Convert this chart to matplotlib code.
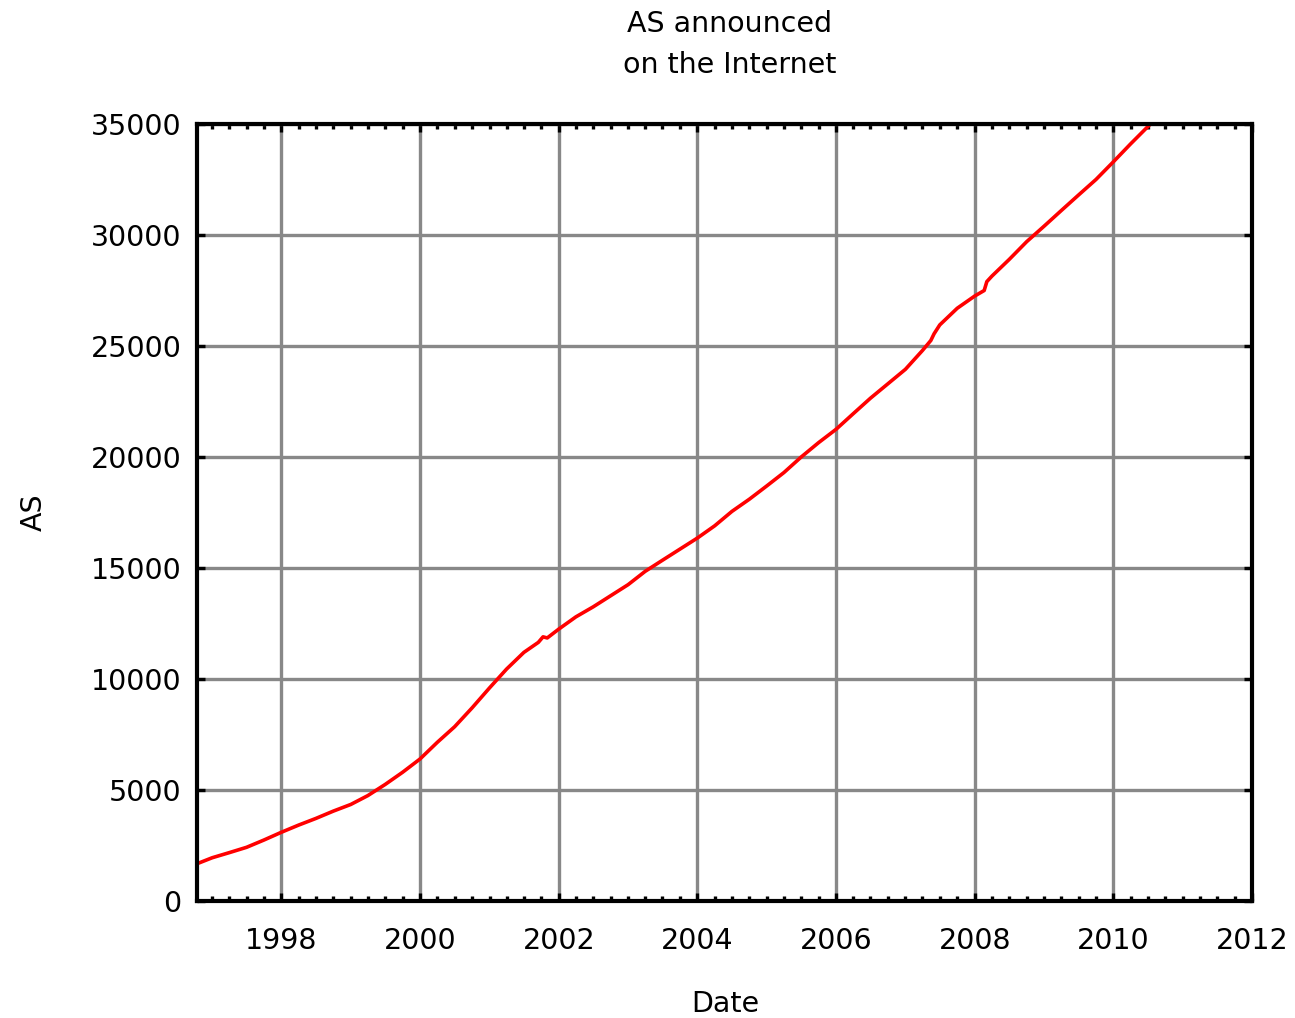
import datetime as dt
import matplotlib
matplotlib.use("Agg")
import matplotlib.pyplot as plt
import matplotlib.dates as mdates
from matplotlib.ticker import MultipleLocator

# Number of autonomous systems announced in the global routing table
dates = [
    "1996-10-10", "1997-01-01", "1997-04-01", "1997-07-01", "1997-10-01",
    "1998-01-01", "1998-04-01", "1998-07-01", "1998-10-01",
    "1999-01-01", "1999-04-01", "1999-07-01", "1999-10-01",
    "2000-01-01", "2000-04-01", "2000-07-01", "2000-10-01",
    "2001-01-01", "2001-04-01", "2001-07-01", "2001-09-15", "2001-10-10", "2001-11-01",
    "2002-01-01", "2002-04-01", "2002-07-01", "2002-10-01",
    "2003-01-01", "2003-04-01", "2003-07-01", "2003-10-01",
    "2004-01-01", "2004-04-01", "2004-07-01", "2004-10-01",
    "2005-01-01", "2005-04-01", "2005-07-01", "2005-10-01",
    "2006-01-01", "2006-04-01", "2006-07-01", "2006-10-01",
    "2007-01-01", "2007-04-01", "2007-05-15", "2007-06-01", "2007-07-01", "2007-10-01",
    "2008-01-01", "2008-02-20", "2008-03-05", "2008-04-01", "2008-07-01", "2008-10-01",
    "2009-01-01", "2009-04-01", "2009-07-01", "2009-10-01",
    "2010-01-01", "2010-04-01", "2010-07-15",
]
as_counts = [
    1670, 1950, 2180, 2420, 2750,
    3100, 3420, 3720, 4050,
    4350, 4750, 5250, 5800,
    6400, 7150, 7850, 8700,
    9600, 10450, 11200, 11650, 11900, 11850,
    12250, 12800, 13250, 13750,
    14250, 14850, 15350, 15850,
    16350, 16900, 17550, 18100,
    18700, 19300, 20000, 20650,
    21250, 21950, 22650, 23300,
    23950, 24800, 25250, 25550, 25950, 26700,
    27250, 27500, 27900, 28150, 28900, 29700,
    30400, 31100, 31800, 32500,
    33300, 34100, 35000,
]

title_lines = ["AS announced", "on the Internet"]
x_label = "Date"
y_label = "AS"

x = [dt.datetime.strptime(d, "%Y-%m-%d") for d in dates]

plt.rcParams["font.family"] = ["DejaVu Sans"]
FS = 20.5

fig = plt.figure(figsize=(12.95, 10.18), dpi=100)
ax = fig.add_axes([0.152, 0.1149, 0.8148, 0.7633])

ax.plot(x, as_counts, color="#ff0000", lw=2.6, zorder=3)

ax.set_xlim(dt.datetime(1996, 10, 12), dt.datetime(2012, 1, 1))
ax.set_ylim(0, 35000)

ax.xaxis.set_major_locator(mdates.YearLocator(2))
ax.xaxis.set_major_formatter(mdates.DateFormatter("%Y"))
ax.xaxis.set_minor_locator(mdates.MonthLocator(bymonth=[1, 4, 7, 10]))
ax.yaxis.set_major_locator(MultipleLocator(5000))

ax.grid(True, which="major", color="#888888", lw=2.4, zorder=1)
ax.set_axisbelow(True)

for sp in ax.spines.values():
    sp.set_linewidth(3)
    sp.set_color("black")
    sp.set_zorder(4)

ax.tick_params(axis="both", which="major", direction="in", length=6, width=2.4,
               labelsize=FS, top=True, right=True, color="black")
ax.tick_params(axis="x", which="minor", direction="in", length=3.5, width=2.4,
               top=True, bottom=True)
ax.tick_params(axis="x", which="major", pad=19)
ax.tick_params(axis="y", which="major", pad=11)

fig.text(0.5637, 0.976, title_lines[0], ha="center", va="center", fontsize=FS)
fig.text(0.5637, 0.936, title_lines[1], ha="center", va="center", fontsize=FS)
fig.text(0.56, 0.014, x_label, ha="center", va="center", fontsize=FS)
fig.text(0.026, 0.497, y_label, ha="center", va="center", rotation=90, fontsize=FS)

fig.savefig("out.png", dpi=100, facecolor="white")
